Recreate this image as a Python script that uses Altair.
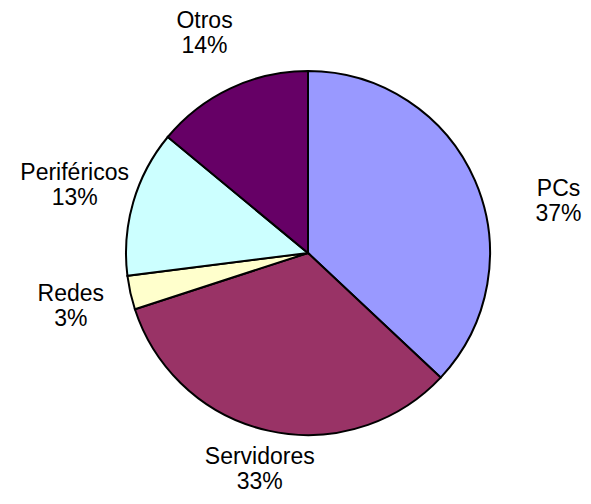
import altair as alt
import pandas as pd

categories = ["PCs", "Servidores", "Redes", "Periféricos", "Otros"]
values = [37, 33, 3, 13, 14]
colors = ["#9999FF", "#993366", "#FFFFCC", "#CCFFFF", "#660066"]

df = pd.DataFrame({"cat": categories, "value": values, "idx": list(range(len(categories)))})

cx, cy = 300, 245
font = "Liberation Sans"
theta_scale = alt.Scale(domain=[0, 100])

arcs = alt.Chart(df).mark_arc(radius=182, stroke="black", strokeWidth=2).encode(
    theta=alt.Theta("value:Q", stack=True, scale=theta_scale),
    order=alt.Order("idx:Q"),
    x=alt.value(cx),
    y=alt.value(cy),
    color=alt.Color("cat:N", scale=alt.Scale(domain=categories, range=colors), legend=None),
)

text_common = dict(font=font, fontSize=23, lineHeight=25, lineBreak="\n",
                   align="center", baseline="middle", color="black")

lab_base = alt.Chart(df).transform_window(
    cum="sum(value)", sort=[alt.SortField("idx")], frame=[None, 0]
).transform_calculate(
    mid="datum.cum - datum.value / 2",
    lab="datum.cat + '\\n' + datum.value + '%'",
)


def label_layer(filter_expr, radius, dx=0, dy=-12):
    return lab_base.transform_filter(filter_expr).mark_text(
        radius=radius, dx=dx, dy=dy, **text_common
    ).encode(
        theta=alt.Theta("mid:Q", stack=None, scale=theta_scale),
        x=alt.value(cx), y=alt.value(cy), text="lab:N",
    )


labels_side = label_layer("datum.cat != 'PCs' && datum.cat != 'Servidores'", 243)
labels_bottom = label_layer("datum.cat == 'Servidores'", 221)
labels_pc = label_layer("datum.cat == 'PCs'", 237, dx=33, dy=30)

chart = alt.layer(arcs, labels_side, labels_bottom, labels_pc).properties(
    width=575, height=488, padding=0,
    autosize=alt.AutoSizeParams(type="none"),
).configure_view(stroke=None)

chart.save("out.html", embed_options={"renderer": "svg", "actions": False})
